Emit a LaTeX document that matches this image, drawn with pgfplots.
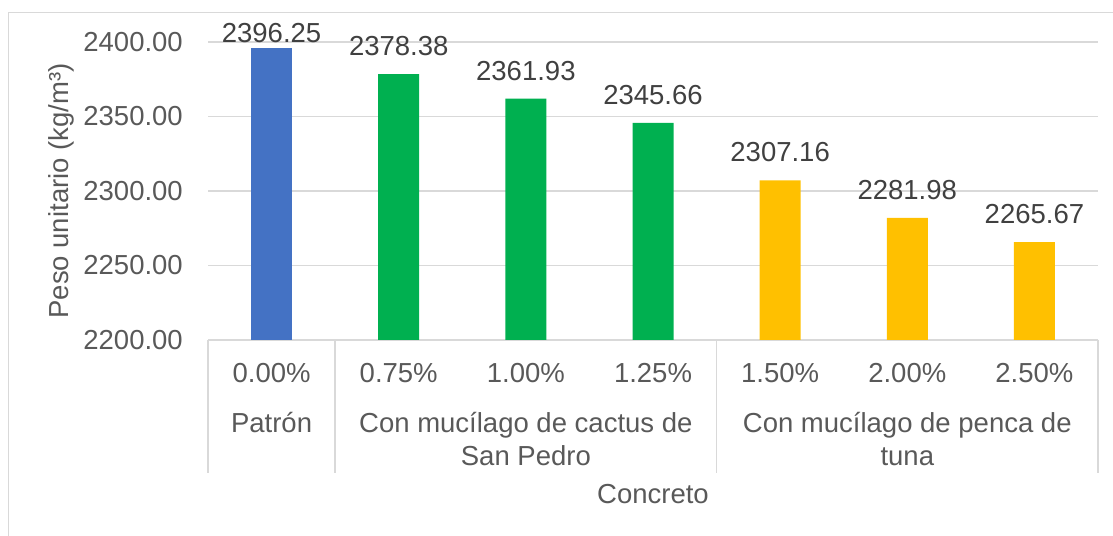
\documentclass[border=0pt]{standalone}
\usepackage{fontspec}
\setmainfont{Liberation Sans}
\usepackage{pgfplots}
\pgfplotsset{compat=1.18}
\definecolor{gridc}{HTML}{D9D9D9}
\definecolor{txt}{HTML}{595959}
\definecolor{lbl}{HTML}{404040}
\definecolor{cblue}{HTML}{4472C4}
\definecolor{cgreen}{HTML}{00B050}
\definecolor{cgold}{HTML}{FFC000}
\newcommand{\fs}{\fontsize{27.5bp}{33bp}\selectfont}
\begin{document}
\begin{tikzpicture}
\useasboundingbox (0,0) rectangle (1113bp,536bp);
\draw[gridc, line width=1.2bp] (8.5bp,0) -- (8.5bp,523.5bp) -- (1113bp,523.5bp);
\begin{axis}[
  at={(208bp,196bp)}, anchor=south west,
  width=890bp, height=298bp, scale only axis,
  xmin=-0.5, xmax=6.5, ymin=0, ymax=200,
  clip=false,
  ybar,
  y filter/.expression={y-2200},
  axis line style={draw=none},
  major tick length=0pt,
  ymajorgrids, grid style={gridc, line width=1.5bp},
  ytick={0,50,100,150,200},
  yticklabel={\pgfmathparse{\tick+2200}\pgfmathprintnumber[fixed,fixed zerofill,precision=2,1000 sep={}]{\pgfmathresult}},
  /pgf/number format/assume math mode=true,
  yticklabel style={anchor=east, inner sep=0pt, xshift=-25bp, font=\fs, text=txt},
  xtick={0,1,2,3,4,5,6},
  xticklabels={0.00\%,0.75\%,1.00\%,1.25\%,1.50\%,2.00\%,2.50\%},
  xticklabel style={anchor=base, inner sep=0pt, yshift=-43bp, font=\fs, text=txt},
  bar width=41bp,
  point meta=rawy,
  nodes near coords={\pgfmathprintnumber[fixed,fixed zerofill,precision=2,1000 sep={}]{\pgfplotspointmeta}},
  every node near coord/.append style={anchor=south, inner sep=0pt, yshift=18bp, font=\fs, text=lbl},
]
\addplot[bar shift=0pt, fill=cblue, draw=none, every node near coord/.append style={yshift=-13bp}] coordinates {(0,2396.25)};
\addplot[bar shift=0pt, fill=cgreen, draw=none] coordinates {(1,2378.38) (2,2361.93) (3,2345.66)};
\addplot[bar shift=0pt, fill=cgold, draw=none] coordinates {(4,2307.16) (5,2281.98) (6,2265.67)};

\draw[gridc, line width=1.5bp] (axis cs:-0.5,0) -- ++(0pt,-133bp);
\draw[gridc, line width=1.5bp] (axis cs:0.5,0) -- ++(0pt,-133bp);
\draw[gridc, line width=1.5bp] (axis cs:3.5,0) -- ++(0pt,-133bp);
\draw[gridc, line width=1.5bp] (axis cs:6.5,0) -- ++(0pt,-133bp);
\path (axis cs:0,0) ++(0pt,-93bp) node[anchor=base, inner sep=0pt, font=\fs, text=txt] {Patrón};
\path (axis cs:2,0) ++(0pt,-93bp) node[anchor=base, inner sep=0pt, font=\fs, text=txt] {Con mucílago de cactus de};
\path (axis cs:2,0) ++(0pt,-125bp) node[anchor=base, inner sep=0pt, font=\fs, text=txt] {San Pedro};
\path (axis cs:5,0) ++(0pt,-93bp) node[anchor=base, inner sep=0pt, font=\fs, text=txt] {Con mucílago de penca de};
\path (axis cs:5,0) ++(0pt,-125bp) node[anchor=base, inner sep=0pt, font=\fs, text=txt] {tuna};
\path (axis cs:3,0) ++(0pt,-163bp) node[anchor=base, inner sep=0pt, font=\fs, text=txt] {Concreto};
\path (axis description cs:0,0.5) ++(-147bp,0pt) node[rotate=90, anchor=center, inner sep=0pt, font=\fs, text=txt] {Peso unitario (kg/m³)};
\end{axis}
\end{tikzpicture}
\end{document}
